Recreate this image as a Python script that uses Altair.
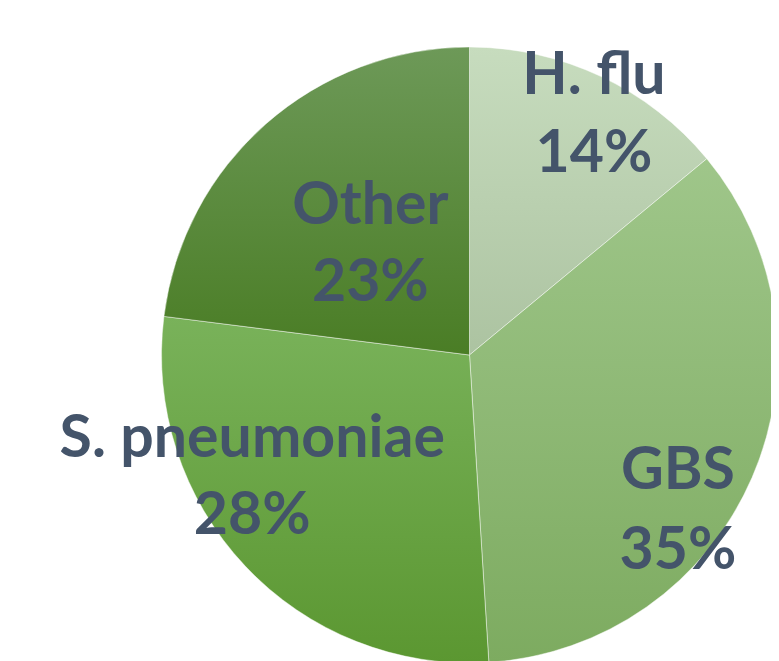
import math
import altair as alt
import pandas as pd

# ---- data ----
categories = ["H. flu", "GBS", "S. pneumoniae", "Other"]
shares = [14, 35, 28, 23]
pct_labels = ["14%", "35%", "28%", "23%"]

# ---- styles ----
top_colors = ["#c7dcbe", "#9fc68a", "#79b25a", "#6d9958"]
bottom_colors = ["#acc3a1", "#7dab60", "#5b9731", "#4a7d25"]
label_radius = [250, 250, 250, 150]
label_dx = [18, -21, -35, 0]
label_dy = [-35, 35, -69, -18]
label_line_height = [78, 80, 77, 77]

df = pd.DataFrame({
    "category": categories,
    "share": shares,
    "pct": pct_labels,
    "order": list(range(len(categories))),
})
df["label"] = df["category"] + "\n" + df["pct"]

CX, CY, R = 461.5, 347, 308
theta_scale = alt.Scale(domain=[0, 100], range=[0, 2 * math.pi])

base = (
    alt.Chart(df)
    .transform_window(cum="sum(share)", sort=[alt.SortField("order")])
    .transform_calculate(start="datum.cum - datum.share",
                         mid="datum.cum - datum.share / 2")
)

layers = []
for i, cat in enumerate(categories):
    grad = alt.LinearGradient(
        gradient="linear",
        stops=[alt.GradientStop(color=top_colors[i], offset=0),
               alt.GradientStop(color=bottom_colors[i], offset=1)],
        x1=0, x2=0, y1=0, y2=1,
    )
    layers.append(
        base.transform_filter(alt.datum.category == cat)
        .mark_arc(outerRadius=R, fill=grad, stroke="#ffffff",
                  strokeWidth=1, strokeOpacity=0.45)
        .encode(
            theta=alt.Theta("start:Q", scale=theta_scale),
            theta2="cum:Q",
            x=alt.value(CX), y=alt.value(CY),
        )
    )

for i, cat in enumerate(categories):
    layers.append(
        base.transform_filter(alt.datum.category == cat)
        .mark_text(font="Lato", fontWeight="bold", fontSize=59,
                   color="#44546a", align="center", baseline="alphabetic",
                   lineBreak="\n", lineHeight=label_line_height[i],
                   dx=label_dx[i], dy=label_dy[i])
        .encode(
            theta=alt.Theta("mid:Q", scale=theta_scale),
            radius=alt.value(label_radius[i]),
            x=alt.value(CX), y=alt.value(CY),
            text="label:N",
        )
    )

chart = (
    alt.layer(*layers)
    .properties(width=763, height=653, padding=0,
                autosize=alt.AutoSizeParams(type="none"))
    .configure_view(stroke=None)
)

chart.save("out.html", embed_options={"renderer": "svg", "actions": False})
